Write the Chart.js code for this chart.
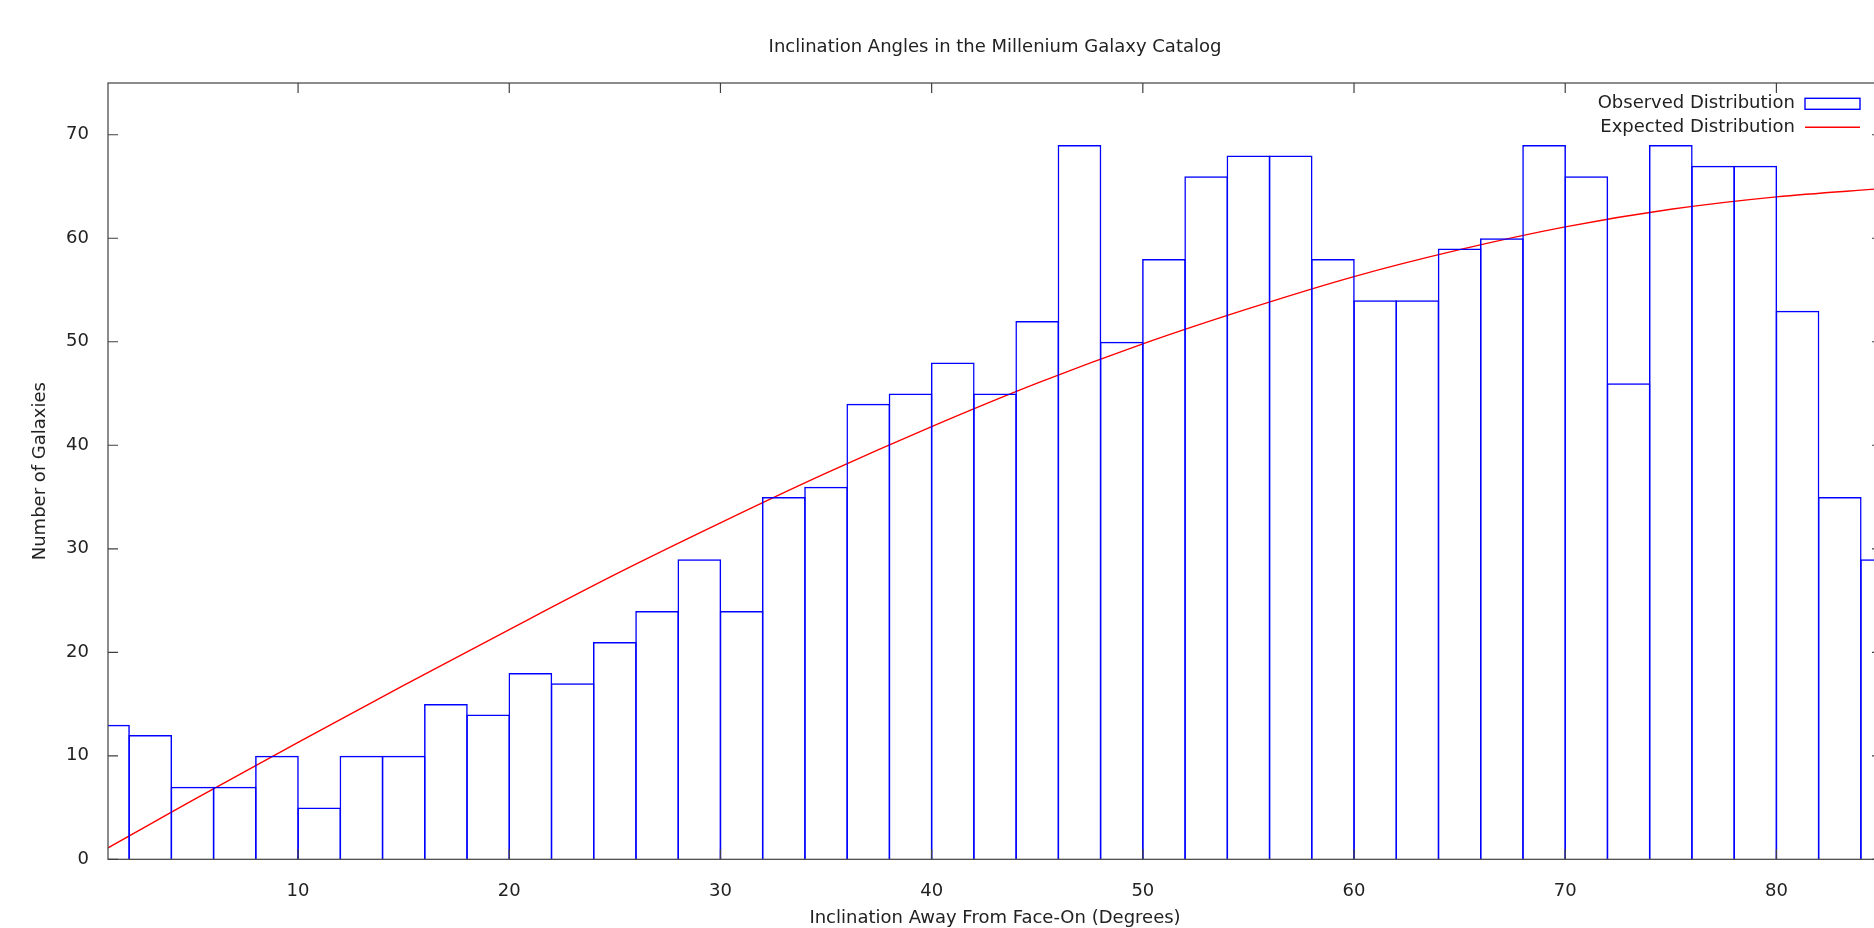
<!DOCTYPE html>
<html>
<head>
<meta charset="utf-8">
<title>Inclination Angles</title>
<script src="https://cdn.jsdelivr.net/npm/chart.js@4.4.1/dist/chart.umd.min.js"></script>
<style>
  html, body { margin: 0; padding: 0; background: #fff; overflow: hidden; }
  #wrap { width: 1990px; height: 928px; }
</style>
</head>
<body>
<div id="wrap"><canvas id="chart" width="1990" height="928"></canvas></div>
<script>
// histogram bins, 2 degrees wide (centre of each bin)
const binCentres = [1, 3, 5, 7, 9, 11, 13, 15, 17, 19, 21, 23, 25, 27, 29, 31, 33, 35, 37, 39, 41, 43,
                    45, 47, 49, 51, 53, 55, 57, 59, 61, 63, 65, 67, 69, 71, 73, 75, 77, 79, 81, 83, 85];
const observedCounts = [13, 12, 7, 7, 10, 5, 10, 10, 15, 14, 18, 17, 21, 24, 29, 24, 35, 36, 44, 45, 48, 45,
                        52, 69, 50, 58, 66, 68, 68, 58, 54, 54, 59, 60, 69, 66, 46, 69, 67, 67, 53, 35, 29];

// expected curve
const expectedAngles = [1, 3, 5, 10, 15, 20, 25, 30, 35, 40, 45, 50, 55, 60, 65, 70, 75, 80, 85];
const expectedCounts = [1.1, 3.4, 5.7, 11.3, 16.8, 22.2, 27.5, 32.5, 37.3, 41.8, 46.0, 49.8, 53.2, 56.3,
                        58.9, 61.1, 62.8, 64.0, 64.8];

// tick labels
const xTickValues = [10, 20, 30, 40, 50, 60, 70, 80];
const yTickValues = [0, 10, 20, 30, 40, 50, 60, 70];

const textColour = '#222';
const frameColour = '#404040';
const fontFamily = '"DejaVu Sans", sans-serif';
const fontSize = 18;

// gnuplot style frame, inward ticks and key
const gnuplotFrame = {
    id: 'gnuplotFrame',
    afterDatasetsDraw(chart) {
        const {ctx, chartArea: a, scales: {x, y}} = chart;
        ctx.save();
        ctx.strokeStyle = frameColour;
        ctx.lineWidth = 1.2;
        ctx.strokeRect(a.left, a.top, a.right - a.left, a.bottom - a.top);
        ctx.beginPath();
        x.ticks.forEach(t => {
            const px = x.getPixelForValue(t.value);
            ctx.moveTo(px, a.bottom); ctx.lineTo(px, a.bottom - 10);
            ctx.moveTo(px, a.top); ctx.lineTo(px, a.top + 10);
        });
        y.ticks.forEach(t => {
            const py = y.getPixelForValue(t.value);
            ctx.moveTo(a.left, py); ctx.lineTo(a.left + 10, py);
            ctx.moveTo(a.right, py); ctx.lineTo(a.right - 10, py);
        });
        ctx.stroke();

        // key, top right inside the plot
        const ds = chart.data.datasets;
        const textRight = a.right - 87;
        const sampleLeft = a.right - 77;
        const sampleRight = a.right - 22;
        ctx.font = fontSize + 'px ' + fontFamily;
        ctx.fillStyle = textColour;
        ctx.textAlign = 'right';
        ctx.textBaseline = 'middle';
        const rows = [a.top + 20.8, a.top + 44.3];
        ds.forEach((d, i) => {
            const ry = rows[i];
            ctx.fillText(d.label, textRight, ry);
            ctx.strokeStyle = d.borderColor;
            ctx.lineWidth = 1.4;
            if (d.type === 'bar') {
                ctx.strokeRect(sampleLeft, ry - 5.5, sampleRight - sampleLeft, 11);
            } else {
                ctx.beginPath();
                ctx.moveTo(sampleLeft, ry);
                ctx.lineTo(sampleRight, ry);
                ctx.stroke();
            }
        });
        ctx.restore();
    }
};

const data = {
    datasets: [{
        type: 'bar',
        label: 'Observed Distribution',
        data: binCentres.map((c, i) => ({x: c, y: observedCounts[i]})),
        backgroundColor: 'rgba(0,0,0,0)',
        borderColor: '#0000ff',
        borderWidth: 1.5,
        borderSkipped: 'start',
        barPercentage: 1.035,
        categoryPercentage: 1,
        clip: 0
    }, {
        type: 'line',
        label: 'Expected Distribution',
        data: expectedAngles.map((a, i) => ({x: a, y: expectedCounts[i]})),
        borderColor: '#ff0000',
        borderWidth: 1.4,
        pointRadius: 0,
        cubicInterpolationMode: 'monotone',
        fill: false,
        clip: 0
    }]
};

const config = {
    data: data,
    options: {
        responsive: false,
        animation: false,
        devicePixelRatio: 1,
        layout: { padding: 0 },
        plugins: {
            legend: { display: false },
            tooltip: { enabled: false },
            title: {
                display: true,
                text: 'Inclination Angles in the Millenium Galaxy Catalog',
                color: textColour,
                font: { family: fontFamily, size: fontSize, weight: 'normal' },
                padding: { top: 37, bottom: 24.4 }
            }
        },
        scales: {
            x: {
                type: 'linear',
                position: 'bottom',
                offset: false,
                min: 1,
                max: 85,
                afterBuildTicks: s => { s.ticks = xTickValues.map(v => ({value: v})); },
                afterFit: s => { s.height = 68.7; },
                grid: { display: false, offset: false },
                border: { display: false },
                ticks: {
                    color: textColour,
                    font: { family: fontFamily, size: fontSize },
                    padding: 13.2,
                    maxRotation: 0,
                    autoSkip: false
                },
                title: {
                    display: true,
                    text: 'Inclination Away From Face-On (Degrees)',
                    color: textColour,
                    font: { family: fontFamily, size: fontSize, lineHeight: 1 },
                    padding: { top: 0, bottom: 0.5 }
                }
            },
            y: {
                type: 'linear',
                position: 'left',
                min: 0,
                max: 75,
                afterBuildTicks: s => { s.ticks = yTickValues.map(v => ({value: v})); },
                afterFit: s => { s.width = 108; },
                grid: { display: false },
                border: { display: false },
                ticks: {
                    color: textColour,
                    font: { family: fontFamily, size: fontSize },
                    padding: 11
                },
                title: {
                    display: true,
                    text: 'Number of Galaxies',
                    color: textColour,
                    font: { family: fontFamily, size: fontSize },
                    padding: { top: 29.2, bottom: 0 }
                }
            },
            y2: {
                type: 'linear',
                position: 'right',
                min: 0,
                max: 75,
                afterFit: s => { s.width = 108; },
                grid: { display: false },
                border: { display: false },
                ticks: { display: false }
            }
        }
    },
    plugins: [gnuplotFrame]
};

const chart = new Chart(document.getElementById('chart'), config);
</script>
</body>
</html>
